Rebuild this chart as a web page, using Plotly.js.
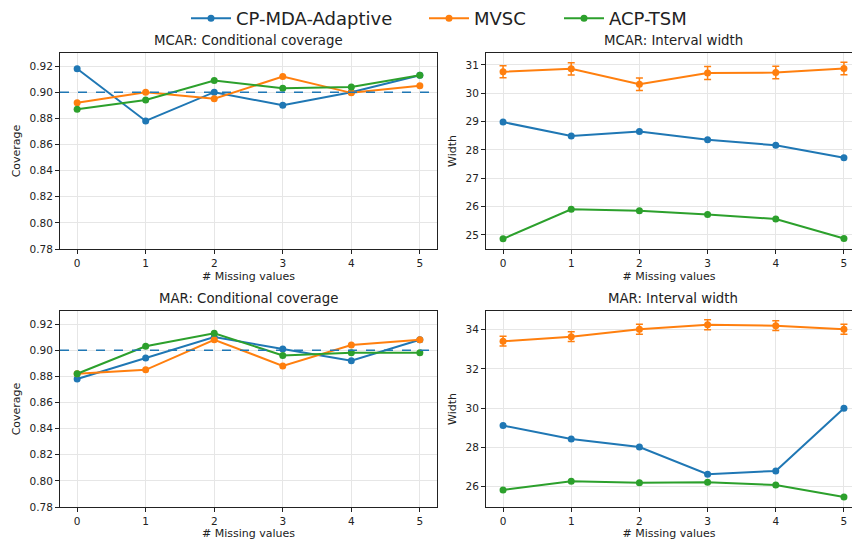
<!DOCTYPE html>
<html>
<head>
<meta charset="utf-8">
<script src="https://cdn.plot.ly/plotly-3.0.1.min.js"></script>
<style>html,body{margin:0;padding:0;background:#fff;}#chart{width:852px;height:540px;}</style>
</head>
<body>
<div id="chart"></div>
<script>
const missing = [0, 1, 2, 3, 4, 5];
const seriesNames = ["CP-MDA-Adaptive", "MVSC", "ACP-TSM"];

// MCAR: Conditional coverage
const mcarCovCP   = [0.918, 0.878, 0.900, 0.890, 0.900, 0.913];
const mcarCovMVSC = [0.892, 0.900, 0.895, 0.912, 0.8995, 0.905];
const mcarCovACP  = [0.887, 0.894, 0.909, 0.903, 0.904, 0.913];

// MCAR: Interval width
const mcarWidCP   = [28.98, 28.49, 28.65, 28.36, 28.16, 27.72];
const mcarWidMVSC = [30.76, 30.86, 30.32, 30.71, 30.73, 30.87];
const mcarWidMVSCErr = [0.21, 0.22, 0.22, 0.23, 0.22, 0.22];
const mcarWidACP  = [24.86, 25.90, 25.85, 25.72, 25.56, 24.87];

// MAR: Conditional coverage
const marCovCP   = [0.878, 0.894, 0.910, 0.901, 0.892, 0.908];
const marCovMVSC = [0.882, 0.885, 0.908, 0.888, 0.904, 0.908];
const marCovACP  = [0.882, 0.903, 0.913, 0.896, 0.898, 0.898];

// MAR: Interval width
const marWidCP   = [29.11, 28.43, 28.02, 26.63, 26.80, 29.99];
const marWidMVSC = [33.41, 33.64, 34.02, 34.25, 34.20, 34.02];
const marWidMVSCErr = [0.25, 0.25, 0.25, 0.25, 0.25, 0.25];
const marWidACP  = [25.83, 26.27, 26.19, 26.22, 26.08, 25.47];

const targetCoverage = 0.9;
const colors = ["#1f77b4", "#ff7f0e", "#2ca02c"];
const legendIds = ["legend", "legend2", "legend3"];

function tr(y, idx, xa, ya, showLegend, err) {
  const t = {
    x: missing, y: y, type: "scatter", mode: "lines+markers",
    name: seriesNames[idx], legendgroup: seriesNames[idx], showlegend: showLegend,
    legend: legendIds[idx],
    xaxis: xa, yaxis: ya,
    line: {color: colors[idx], width: 2},
    marker: {color: colors[idx], size: 7}
  };
  if (err) {
    t.error_y = {type: "data", array: err, visible: true, color: colors[idx], thickness: 1.5, width: 3.5};
  }
  return t;
}

const data = [
  tr(mcarCovCP, 0, "x", "y", true),
  tr(mcarCovMVSC, 1, "x", "y", true),
  tr(mcarCovACP, 2, "x", "y", true),
  tr(mcarWidCP, 0, "x2", "y2", false),
  tr(mcarWidMVSC, 1, "x2", "y2", false, mcarWidMVSCErr),
  tr(mcarWidACP, 2, "x2", "y2", false),
  tr(marCovCP, 0, "x3", "y3", false),
  tr(marCovMVSC, 1, "x3", "y3", false),
  tr(marCovACP, 2, "x3", "y3", false),
  tr(marWidCP, 0, "x4", "y4", false),
  tr(marWidMVSC, 1, "x4", "y4", false, marWidMVSCErr),
  tr(marWidACP, 2, "x4", "y4", false)
];

const fontFam = "DejaVu Sans, sans-serif";
const common = {
  showline: true, mirror: true, linecolor: "#222", linewidth: 1,
  ticks: "outside", ticklen: 4, tickcolor: "#222", tickwidth: 1,
  showgrid: true, gridcolor: "#e6e6e6", gridwidth: 1, zeroline: false,
  tickfont: {family: fontFam, size: 10.5, color: "#222"}
};
function xax(domain, anchor, range) {
  return Object.assign({}, common, {
    domain: domain, anchor: anchor, range: range, tickmode: "linear", tick0: 0, dtick: 1,
    title: {text: "# Missing values", font: {family: fontFam, size: 11, color: "#222"}, standoff: 4}
  });
}
function yax(domain, anchor, range, dtick, fmt, label, mirror) {
  return Object.assign({}, common, {
    domain: domain, anchor: anchor, range: range, tickmode: "linear", tick0: 0, dtick: dtick,
    tickformat: fmt, mirror: mirror,
    title: {text: label, font: {family: fontFam, size: 11, color: "#222"}, standoff: 6}
  });
}

const xL = [60/852, 437/852], xR = [486/852, 1];
const yT = [1 - 249/540, 1 - 53/540], yB = [1 - 507/540, 1 - 311/540];
const rangeL = [-0.25, 5.25], rangeR = [-0.25, 5.118];

const titles = ["MCAR: Conditional coverage", "MCAR: Interval width", "MAR: Conditional coverage", "MAR: Interval width"];
const refs = [["x", "y"], ["x2", "y2"], ["x3", "y3"], ["x4", "y4"]];
const titleX = [0.5, 0.512, 0.5, 0.512];

function leg(xpx) {
  return {orientation: "h", x: xpx / 852, xanchor: "left", y: 1, yanchor: "top",
          itemwidth: 40,
          font: {family: fontFam, size: 18, color: "#222"}, bgcolor: "rgba(0,0,0,0)"};
}

const layout = {
  width: 852, height: 540,
  margin: {l: 0, r: 0, t: 0, b: 0},
  paper_bgcolor: "#fff", plot_bgcolor: "#fff",
  font: {family: fontFam, color: "#222"},
  showlegend: true,
  legend: leg(186),
  legend2: leg(424),
  legend3: leg(559),
  xaxis: xax(xL, "y", rangeL),
  yaxis: yax(yT, "x", [0.78, 0.93], 0.02, ".2f", "Coverage", true),
  xaxis2: xax(xR, "y2", rangeR),
  yaxis2: yax(yT, "x2", [24.5, 31.42], 1, "d", "Width", false),
  xaxis3: xax(xL, "y3", rangeL),
  yaxis3: yax(yB, "x3", [0.78, 0.93], 0.02, ".2f", "Coverage", true),
  xaxis4: xax(xR, "y4", rangeR),
  yaxis4: yax(yB, "x4", [24.96, 34.95], 2, "d", "Width", false),
  shapes: [
    {type: "line", xref: "x domain", yref: "y", x0: 0, x1: 1, y0: targetCoverage, y1: targetCoverage,
     line: {color: colors[0], width: 1.5, dash: "dash"}},
    {type: "line", xref: "x3 domain", yref: "y3", x0: 0, x1: 1, y0: targetCoverage, y1: targetCoverage,
     line: {color: colors[0], width: 1.5, dash: "dash"}}
  ],
  annotations: titles.map((t, i) => ({
    text: t, xref: refs[i][0] + " domain", yref: refs[i][1] + " domain", x: titleX[i], y: 1,
    xanchor: "center", yanchor: "bottom", yshift: 3, showarrow: false,
    font: {family: fontFam, size: 13.3, color: "#222"}
  }))
};

Plotly.newPlot("chart", data, layout, {displayModeBar: false, staticPlot: true});
</script>
</body>
</html>
